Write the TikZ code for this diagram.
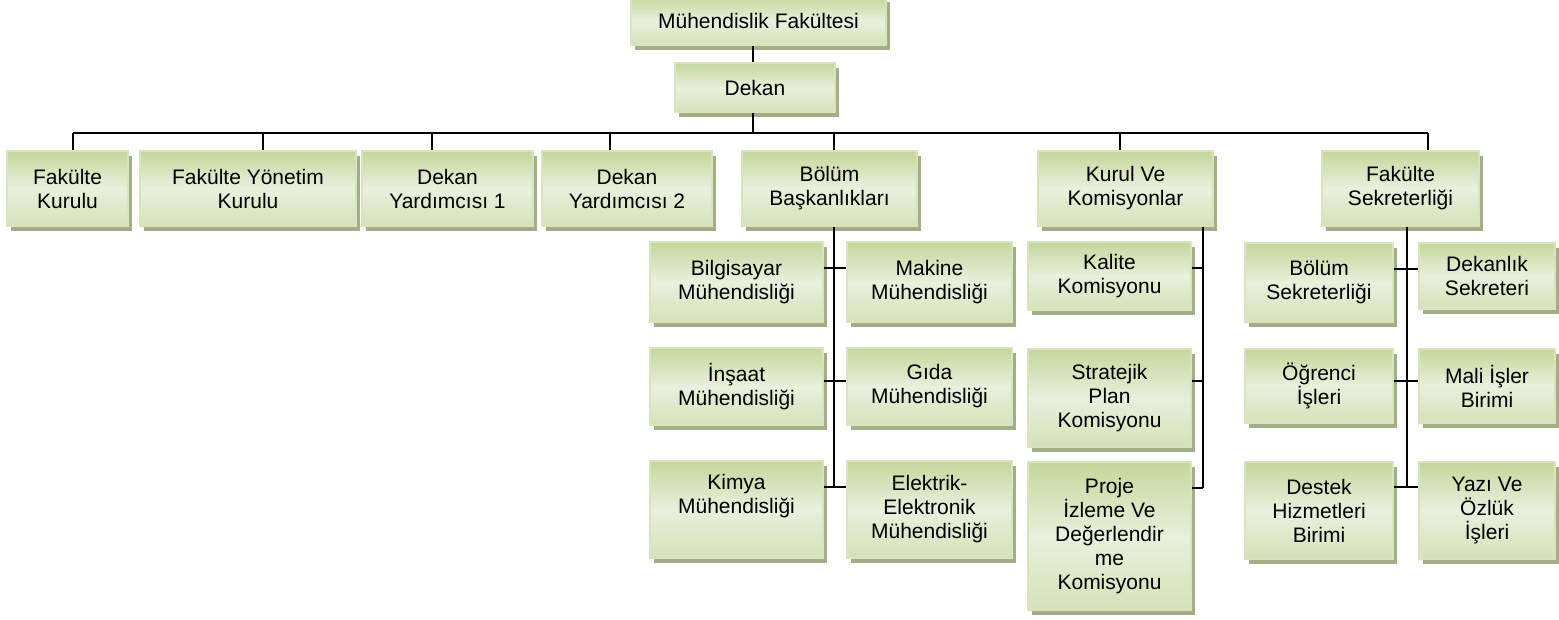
\documentclass[tikz,border=0pt]{standalone}
\usepackage{fontspec}
\setmainfont{Liberation Sans}
\usetikzlibrary{shadows}

\definecolor{boxtop}{RGB}{196,215,155}
\definecolor{boxmid}{RGB}{233,240,221}
\definecolor{boxbot}{RGB}{213,226,184}
\definecolor{boxedge}{RGB}{215,228,188}
\definecolor{boxshadow}{RGB}{163,174,137}

\begin{document}
\begin{tikzpicture}[x=1pt, y=-1pt,
	unitbox/.style={rectangle, draw=boxedge, line width=1.5pt,
		top color=boxtop, bottom color=boxbot, middle color=boxmid,
		align=center, inner sep=2pt, font=\fontsize{21pt}{24pt}\selectfont,
		drop shadow={shadow xshift=4pt, shadow yshift=-5pt, fill=boxshadow, opacity=1}},
	link/.style={draw=black, line width=1.6pt}]
		
		\useasboundingbox (0,0) rectangle (1559,620);
		
		% Top
		
		\node[unitbox, minimum width=255pt, minimum height=48pt]
		(muh) at (758.5,21) {Mühendislik Fakültesi};
		\node[unitbox, minimum width=160pt, minimum height=49pt]
		(dekan) at (755,87.5) {Dekan};
		
		% Node
		
		\node[unitbox, minimum width=121pt, minimum height=75pt]
		(fk) at (67.5,188.5) {Fakülte\\Kurulu};
		\node[unitbox, minimum width=216pt, minimum height=75pt]
		(fyk) at (248,188.5) {Fakülte Yönetim\\Kurulu};
		\node[unitbox, minimum width=171pt, minimum height=75pt]
		(dy1) at (447.5,188.5) {Dekan\\Yardımcısı 1};
		\node[unitbox, minimum width=170pt, minimum height=75pt]
		(dy2) at (627,188.5) {Dekan\\Yardımcısı 2};
		\node[unitbox, minimum width=175pt, minimum height=75pt]
		(bb) at (829.5,188.5) {Bölüm\\Başkanlıkları};
		\node[unitbox, minimum width=175pt, minimum height=75pt]
		(kk) at (1125.5,188.5) {Kurul Ve\\Komisyonlar};
		\node[unitbox, minimum width=157pt, minimum height=75pt]
		(fs) at (1400.5,188.5) {Fakülte\\Sekreterliği};
		
		% Bolum
		
		\node[unitbox, minimum width=173pt, minimum height=80pt]
		(bil) at (736.5,282) {Bilgisayar\\Mühendisliği};
		\node[unitbox, minimum width=165pt, minimum height=80pt]
		(mak) at (929.5,282) {Makine\\Mühendisliği};
		\node[unitbox, minimum width=173pt, minimum height=77pt]
		(ins) at (736.5,386.5) {İnşaat\\Mühendisliği};
		\node[unitbox, minimum width=165pt, minimum height=77pt]
		(gida) at (929.5,386.5) {Gıda\\Mühendisliği};
		\node[unitbox, minimum width=173pt, minimum height=97pt]
		(kim) at (736.5,509.5) {Kimya\\Mühendisliği\\\strut};
		\node[unitbox, minimum width=165pt, minimum height=97pt]
		(elk) at (929.5,509.5) {Elektrik-\\Elektronik\\Mühendisliği};
		
		% Kurul
		
		\node[unitbox, minimum width=163pt, minimum height=68pt]
		(kal) at (1109.5,276) {Kalite\\Komisyonu};
		\node[unitbox, minimum width=163pt, minimum height=98pt]
		(stp) at (1109.5,398) {Stratejik\\Plan\\Komisyonu};
		\node[unitbox, minimum width=163pt, minimum height=148pt]
		(pro) at (1109.5,536) {Proje\\İzleme Ve\\Değerlendir\\me\\Komisyonu};
		
		% Sekreterlik
		
		\node[unitbox, minimum width=148pt, minimum height=79pt]
		(bsek) at (1319,282.5) {Bölüm\\Sekreterliği};
		\node[unitbox, minimum width=136pt, minimum height=66pt]
		(dsek) at (1487,276) {Dekanlık\\Sekreteri};
		\node[unitbox, minimum width=148pt, minimum height=74pt]
		(ogr) at (1319,386) {Öğrenci\\İşleri};
		\node[unitbox, minimum width=136pt, minimum height=74pt]
		(mali) at (1487,386) {Mali İşler\\Birimi};
		\node[unitbox, minimum width=148pt, minimum height=97pt]
		(des) at (1319,510.5) {Destek\\Hizmetleri\\Birimi};
		\node[unitbox, minimum width=136pt, minimum height=97pt]
		(yazi) at (1487,510.5) {Yazı Ve\\Özlük\\İşleri};
		
		% EDGE
		
		\coordinate (busL) at (73,133);
		\coordinate (busR) at (1428,133);
		\coordinate (busM) at (753,133);
		
		\draw[link] (muh.south -| busM) -- (dekan.north -| busM);
		\draw[link] (dekan.south -| busM) -- (busM);
		\draw[link] (busL) -- (busR);
		\foreach \n/\x in {fk/73, fyk/263, dy1/432, dy2/610, bb/834, kk/1120, fs/1428}
			\draw[link] (\x,133) -- (\n.north -| \x,0);
		
		% Sub EDGE
		
		\draw[link] (bb.south -| 834,0) -- (834,487);
		\draw[link] (bil.east |- 0,268) -- (mak.west |- 0,268);
		\draw[link] (ins.east |- 0,381) -- (gida.west |- 0,381);
		\draw[link] (kim.east |- 0,487) -- (elk.west |- 0,487);
		
		\draw[link] (kk.south -| 1203,0) -- (1203,488);
		\draw[link] (kal.east |- 0,268) -- (1203,268);
		\draw[link] (stp.east |- 0,381) -- (1203,381);
		\draw[link] (pro.east |- 0,488) -- (1203,488);
		
		\draw[link] (fs.south -| 1407,0) -- (1407,487);
		\draw[link] (bsek.east |- 0,269) -- (dsek.west |- 0,269);
		\draw[link] (ogr.east |- 0,381) -- (mali.west |- 0,381);
		\draw[link] (des.east |- 0,487) -- (yazi.west |- 0,487);
		
	\end{tikzpicture}
\end{document}
